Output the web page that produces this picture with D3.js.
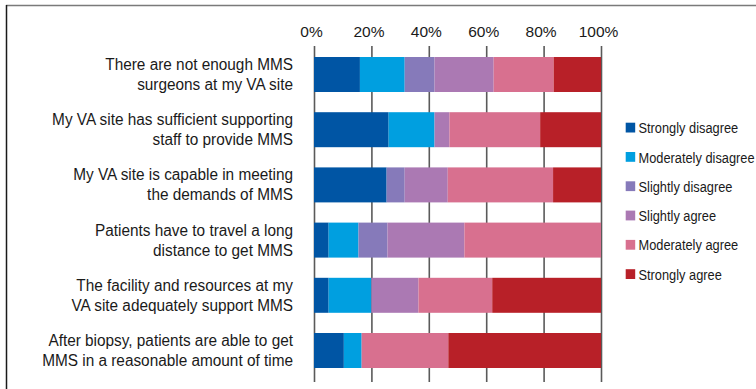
<!DOCTYPE html>
<html>
<head>
<meta charset="utf-8">
<script src="https://cdn.jsdelivr.net/npm/d3@7"></script>
<style>
  html, body { margin: 0; padding: 0; background: #fff; }
  svg { display: block; }
</style>
</head>
<body>
<svg id="chart" width="756" height="389"></svg>
<script>
const categories = [
  ["There are not enough MMS", "surgeons at my VA site"],
  ["My VA site has sufficient supporting", "staff to provide MMS"],
  ["My VA site is capable in meeting", "the demands of MMS"],
  ["Patients have to travel a long", "distance to get MMS"],
  ["The facility and resources at my", "VA site adequately support MMS"],
  ["After biopsy, patients are able to get", "MMS in a reasonable amount of time"]
];
const seriesNames = ["Strongly disagree", "Moderately disagree", "Slightly disagree",
                     "Slightly agree", "Moderately agree", "Strongly agree"];
const stronglyDisagree   = [16.0, 26.0, 25.3, 5.1, 5.1, 10.4];
const moderatelyDisagree = [15.6, 16.0, 0.0, 10.4, 14.9, 6.2];
const slightlyDisagree   = [10.4, 0.0, 6.3, 10.1, 0.0, 0.0];
const slightlyAgree      = [20.6, 5.2, 15.0, 26.8, 16.4, 0.0];
const moderatelyAgree    = [20.9, 31.6, 36.7, 47.6, 25.7, 30.2];
const stronglyAgree      = [16.5, 21.2, 16.7, 0.0, 37.9, 53.2];
const tickValues = [0, 20, 40, 60, 80, 100];
const colors = ["#0055a4", "#009fe0", "#867aba", "#ab79b3", "#d8708f", "#b82028"];

const seriesValues = [stronglyDisagree, moderatelyDisagree, slightlyDisagree,
                      slightlyAgree, moderatelyAgree, stronglyAgree];
const rows = categories.map((c, i) => {
  const r = { key: i };
  seriesNames.forEach((s, j) => r[s] = seriesValues[j][i]);
  return r;
});

const svg = d3.select("#chart");
const font = "'Liberation Sans', Arial, Helvetica, sans-serif";

// frame
svg.append("line").attr("x1", 6).attr("x2", 756).attr("y1", 5.5).attr("y2", 5.5)
  .attr("stroke", "#7a7a7a").attr("stroke-width", 1.6);
svg.append("line").attr("x1", 6.5).attr("x2", 6.5).attr("y1", 5).attr("y2", 389)
  .attr("stroke", "#1a1a1a").attr("stroke-width", 1.5);

const x = d3.scaleLinear().domain([0, 100]).range([314, 601]);
const y = d3.scaleBand().domain(d3.range(categories.length))
  .range([46.9, 378.1]).paddingInner(0.366).paddingOuter(0.183);

// gridlines / axis
const axis = d3.axisTop(x).tickValues(tickValues).tickFormat(d => d + "%")
  .tickSize(-(382 - 46)).tickPadding(10);
const ag = svg.append("g").attr("transform", "translate(0,46)").call(axis);
ag.select(".domain").remove();
ag.selectAll(".tick line").attr("stroke", "#5a5a5a").attr("stroke-width", 1.6);
ag.selectAll(".tick text").attr("fill", "#1a1a1a")
  .style("font-family", font)
  .style("font-size", "15.5px").attr("y", -9).attr("dx", -3);

// bars
const stack = d3.stack().keys(seriesNames)(rows);
svg.append("g").selectAll("g").data(stack).join("g")
  .attr("fill", (d, i) => colors[i])
  .selectAll("rect").data(d => d).join("rect")
  .attr("x", d => x(d[0]))
  .attr("width", d => x(d[1]) - x(d[0]))
  .attr("y", (d, i) => y(i))
  .attr("height", y.bandwidth());

// category labels (condensed like the original typeface)
const lg = svg.append("g").attr("transform", "translate(293,0) scale(0.96,1)");
categories.forEach((lines, i) => {
  const cy = y(i) + y.bandwidth() / 2;
  const t = lg.append("text").attr("text-anchor", "end")
    .attr("fill", "#1a1a1a").style("font-family", font).style("font-size", "16px");
  lines.forEach((ln, k) => {
    t.append("tspan").attr("x", 0).attr("y", cy - 4.5 + k * 20).text(ln);
  });
});

// legend
const leg = svg.append("g");
const legText = svg.append("g").attr("transform", "translate(638.5,0) scale(0.855,1)");
seriesNames.forEach((s, i) => {
  const ty = 122.7 + i * 29.3;
  leg.append("rect").attr("x", 625.7).attr("y", ty).attr("width", 9.5).attr("height", 9.8)
    .attr("fill", colors[i]);
  legText.append("text").attr("x", 0).attr("y", ty + 10.6)
    .attr("fill", "#1a1a1a").style("font-family", font).style("font-size", "15px")
    .text(s);
});
</script>
</body>
</html>
